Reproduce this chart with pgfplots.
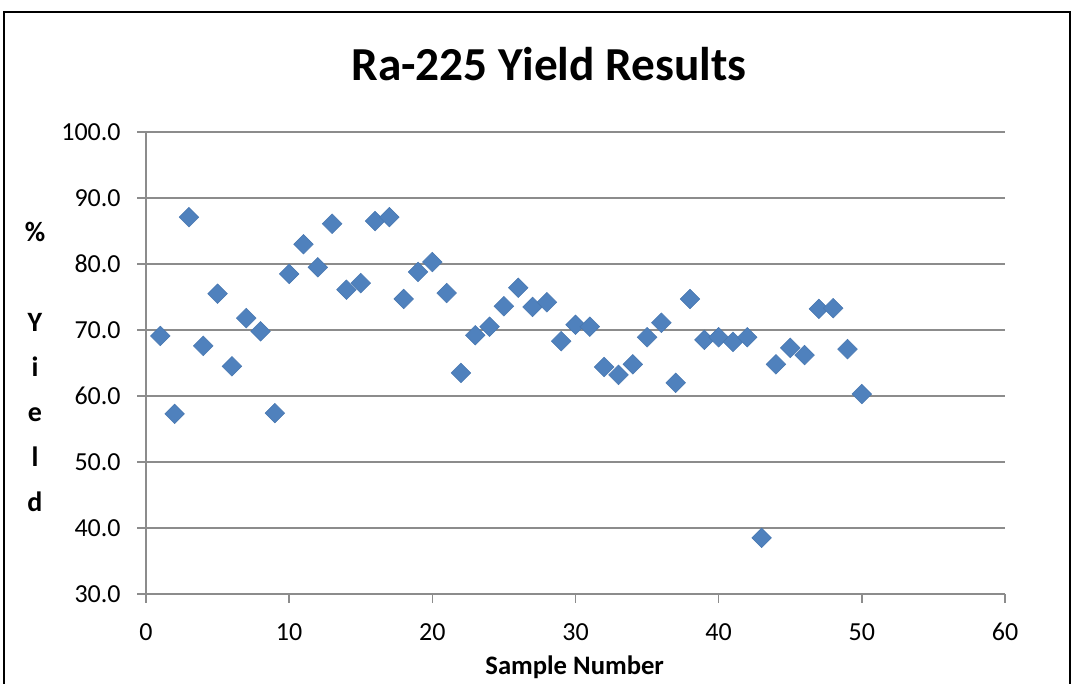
\documentclass[border=0pt]{standalone}
\usepackage{fontspec}
\setmainfont{Carlito}
\usepackage{pgfplots}
\pgfplotsset{compat=1.18}
\definecolor{mk}{HTML}{4F81BD}
\definecolor{mkb}{HTML}{4877B0}
\definecolor{gr}{HTML}{8C8C8C}
\begin{document}
\begin{tikzpicture}
\useasboundingbox (0,0) rectangle (807pt,512.25pt);
\draw[line width=1.5pt, black] (3pt,-5pt) -- (3pt,503.25pt) -- (802.5pt,503.25pt) -- (802.5pt,-5pt);
\begin{axis}[
  at={(109.5pt,66.75pt)}, anchor=south west,
  width=644.25pt, height=346.5pt, scale only axis,
  xmin=0, xmax=60, ymin=30, ymax=100,
  xtick={0,10,...,60}, ytick={30,40,...,100},
  axis x line*=bottom, axis y line*=left,
  axis line style={gr, line width=1.1pt, -},
  ymajorgrids, grid style={gr, line width=1.1pt},
  tick style={gr, line width=1.1pt},
  tick align=outside, major tick length=6.5pt,
  /pgf/number format/assume math mode=true,
  ticklabel style={font=\fontsize{19.5}{22}\selectfont, black},
  yticklabel style={xshift=-9pt, /pgf/number format/.cd, fixed, fixed zerofill, precision=1},
  xticklabel style={yshift=-12pt, /pgf/number format/.cd, fixed, precision=0},
  clip=false,
]
\addplot[only marks, mark=square*, mark size=5.2pt,
  mark options={rotate=45, fill=mk, draw=mkb, line width=0.4pt}]
coordinates {
(1,69.1) (2,57.3) (3,87.1) (4,67.6) (5,75.5) (6,64.5) (7,71.8) (8,69.8) (9,57.4) (10,78.5)
(11,83.0) (12,79.5) (13,86.1) (14,76.1) (15,77.1) (16,86.5) (17,87.1) (18,74.7) (19,78.8) (20,80.3)
(21,75.6) (22,63.5) (23,69.2) (24,70.5) (25,73.6) (26,76.4) (27,73.5) (28,74.2) (29,68.3) (30,70.8)
(31,70.5) (32,64.4) (33,63.2) (34,64.8) (35,68.9) (36,71.1) (37,62.0) (38,74.7) (39,68.5) (40,68.9)
(41,68.2) (42,68.9) (43,38.5) (44,64.8) (45,67.3) (46,66.2) (47,73.2) (48,73.3) (49,67.1) (50,60.3)
};
\end{axis}
\node[font=\bfseries\fontsize{35.5}{40}\selectfont] at (411.75pt,464.25pt) {Ra-225 Yield Results};
\node[font=\bfseries\fontsize{20}{22}\selectfont] at (431pt,12pt) {Sample Number};
\node[font=\bfseries\fontsize{21}{33.75}\selectfont, align=center] at (26.25pt,237pt)
  {\%\\[33.75pt]Y\\i\\e\\l\\d};
\end{tikzpicture}
\end{document}
